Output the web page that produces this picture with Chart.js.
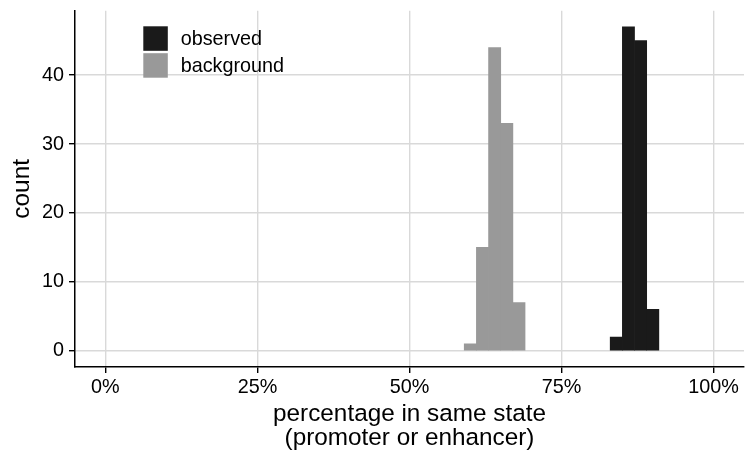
<!DOCTYPE html>
<html>
<head>
<meta charset="utf-8">
<script src="https://cdn.jsdelivr.net/npm/chart.js@4/dist/chart.umd.min.js"></script>
<style>
  html, body { margin: 0; padding: 0; background: #ffffff; }
  canvas { display: block; }
</style>
</head>
<body>
<canvas id="hist" width="747" height="453"></canvas>
<script>
// Histogram bins (centre of each 2%-wide bin, in percent) and their counts
const observedBins = [84, 86, 88, 90];
const observedCounts = [2, 47, 45, 6];
const backgroundBins = [60, 62, 64, 66, 68];
const backgroundCounts = [1, 15, 44, 33, 7];

// Axis ticks
const xTicks = [0, 25, 50, 75, 100];
const yTicks = [0, 10, 20, 30, 40];

const seriesNames = ['observed', 'background'];
const seriesColors = ['#1a1a1a', '#999999'];

const FONT = '"Liberation Sans", Arial, Helvetica, sans-serif';
const TEXT = '#000000';
const GRID = '#d9d9d9';

function toPoints(bins, counts) {
  return bins.map((b, i) => ({ x: b, y: counts[i] }));
}

// Key boxes with labels, placed inside the panel at the top left
const insideLegend = {
  id: 'insideLegend',
  afterDatasetsDraw(chart) {
    const ctx = chart.ctx;
    const x0 = 143.3, y0 = 26.3, size = 24.5, step = 26.9;
    ctx.save();
    chart.data.datasets.forEach((ds, i) => {
      const y = y0 + i * step;
      ctx.fillStyle = ds.backgroundColor;
      ctx.fillRect(x0, y, size, size);
      ctx.fillStyle = TEXT;
      ctx.font = '19.8px ' + FONT;
      ctx.textBaseline = 'middle';
      ctx.textAlign = 'left';
      ctx.fillText(ds.label, 180.7, y + size / 2 + 0.8);
    });
    ctx.restore();
  }
};

new Chart(document.getElementById('hist'), {
  type: 'bar',
  data: {
    datasets: [
      {
        label: seriesNames[0],
        data: toPoints(observedBins, observedCounts),
        backgroundColor: seriesColors[0],
        borderWidth: 0
      },
      {
        label: seriesNames[1],
        data: toPoints(backgroundBins, backgroundCounts),
        backgroundColor: seriesColors[1],
        borderWidth: 0
      }
    ]
  },
  options: {
    responsive: false,
    animation: false,
    devicePixelRatio: 1,
    layout: { padding: { top: 10.7, right: 3, left: 0, bottom: 0 } },
    datasets: {
      bar: { grouped: false, barPercentage: 1, categoryPercentage: 1 }
    },
    plugins: {
      legend: { display: false },
      tooltip: { enabled: false }
    },
    scales: {
      x: {
        type: 'linear',
        min: -5,
        max: 105,
        offset: false,
        afterBuildTicks(scale) { scale.ticks = xTicks.map(v => ({ value: v })); },
        afterFit(scale) {
          scale.height = 86;
          scale.paddingLeft = 0;
          scale.paddingRight = 0;
        },
        grid: {
          offset: false,
          color: GRID,
          lineWidth: 1.4,
          drawTicks: true,
          tickLength: 6,
          tickColor: '#000000',
          tickWidth: 1.4
        },
        border: { display: true, color: '#000000', width: 1.5 },
        ticks: {
          callback: v => v + '%',
          color: TEXT,
          font: { family: FONT, size: 19.8 },
          padding: 2.8,
          maxRotation: 0,
          autoSkip: false
        },
        title: {
          display: true,
          text: ['percentage in same state', '(promoter or enhancer)'],
          color: TEXT,
          font: { family: FONT, size: 24.3, lineHeight: 1.0 },
          padding: { top: 0, bottom: 2.6 }
        }
      },
      y: {
        type: 'linear',
        min: -2.35,
        max: 49.35,
        afterBuildTicks(scale) { scale.ticks = yTicks.map(v => ({ value: v })); },
        afterFit(scale) {
          scale.width = 75;
          scale.paddingTop = 0;
          scale.paddingBottom = 0;
        },
        grid: {
          color: GRID,
          lineWidth: 1.4,
          drawTicks: true,
          tickLength: 6,
          tickColor: '#000000',
          tickWidth: 1.4
        },
        border: { display: true, color: '#000000', width: 1.5 },
        ticks: {
          color: TEXT,
          font: { family: FONT, size: 19.8 },
          padding: 5
        },
        title: {
          display: true,
          text: 'count',
          color: TEXT,
          font: { family: FONT, size: 24.5, lineHeight: 1.2 },
          padding: { top: 7.3, bottom: 0 }
        }
      }
    }
  },
  plugins: [insideLegend]
});
</script>
</body>
</html>
